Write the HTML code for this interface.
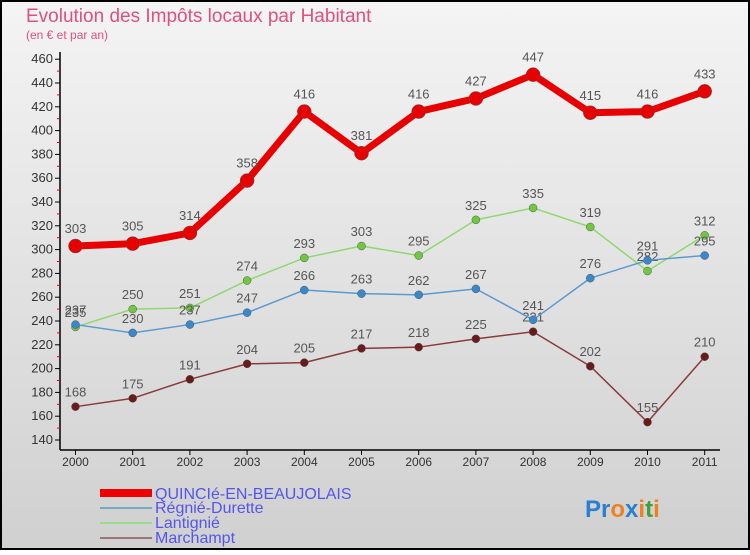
<!DOCTYPE html>
<html><head><meta charset="utf-8"><style>
body{margin:0}
#c{width:750px;height:550px;position:relative;font-family:"Liberation Sans",sans-serif}
</style></head><body>
<div id="c">
<svg width="750" height="550" xmlns="http://www.w3.org/2000/svg" id="svg" font-family="Liberation Sans, sans-serif">
<defs><linearGradient id="bg" x1="0" y1="0" x2="0" y2="1"><stop offset="0" stop-color="#f4f4f4"/><stop offset="1" stop-color="#d0d0d0"/></linearGradient></defs>
<rect x="1" y="1" width="748" height="548" fill="url(#bg)" stroke="#000" stroke-width="2"/>
<text x="26" y="22" font-size="19" fill="#e0507a">Evolution des Impôts locaux par Habitant</text>
<text x="26" y="39" font-size="12" fill="#e0507a">(en € et par an)</text>
<g id="axes"></g><g id="series"></g>
<g font-size="16" fill="#5555ee">
<rect x="100" y="489" width="52" height="8" fill="#e00"/>
<text x="155" y="499">QUINCIé-EN-BEAUJOLAIS</text>
<rect x="100" y="507" width="52" height="2" fill="#7ab"/>
<text x="155" y="513">Régnié-Durette</text>
<rect x="100" y="522" width="52" height="2" fill="#9d8"/>
<text x="155" y="528">Lantignié</text>
<rect x="100" y="537" width="52" height="2" fill="#977"/>
<text x="155" y="543">Marchampt</text>
</g>
<text x="585" y="517" font-size="24" font-weight="bold"><tspan fill="#2a7fd0">Pr</tspan><tspan fill="#f08020">o</tspan><tspan fill="#2a7fd0">x</tspan><tspan fill="#f08020">i</tspan><tspan fill="#40a040">t</tspan><tspan fill="#f08020">i</tspan></text>
</svg></div>
<script>
const years=[2000,2001,2002,2003,2004,2005,2006,2007,2008,2009,2010,2011];
const yTicks=[140,160,180,200,220,240,260,280,300,320,340,360,380,400,420,440,460];
const quincie=[303,305,314,358,416,381,416,427,447,415,416,433];
const regnie=[237,230,237,247,266,263,262,267,241,276,291,295];
const lantignie=[235,250,251,274,293,303,295,325,335,319,282,312];
const marchampt=[168,175,191,204,205,217,218,225,231,202,155,210];
const NS="http://www.w3.org/2000/svg";
const xs=i=>75.5+i*57.2;
const ys=v=>440-(v-140)*1.19;
function mk(t,a,p){const e=document.createElementNS(NS,t);for(const k in a)e.setAttribute(k,a[k]);p.appendChild(e);return e;}
const ax=document.getElementById('axes');
const yl=mk('line',{x1:60,y1:52,x2:60,y2:450,stroke:'#000','stroke-width':1.5},ax);


const xl=mk('line',{x1:60,y1:450,x2:720,y2:450,stroke:'#000','stroke-width':1.5},ax);


yTicks.forEach((v,i)=>{
  mk('line',{x1:55,y1:ys(v),x2:60,y2:ys(v),stroke:'#000'},ax);
  if(i<yTicks.length-1)mk('line',{x1:57,y1:ys(v+10),x2:60,y2:ys(v+10),stroke:'#e00'},ax);
  const t=mk('text',{x:53,y:ys(v)+4,'font-size':13,fill:'#333','text-anchor':'end'},ax);
  
  
  t.textContent=v;
});
years.forEach((y,i)=>{
  mk('line',{x1:xs(i),y1:450,x2:xs(i),y2:455,stroke:'#000'},ax);
  const t=mk('text',{x:xs(i),y:466,'font-size':12,fill:'#333','text-anchor':'middle'},ax);
  
  
  t.textContent=y;
});
const sg=document.getElementById('series');
function draw(data,color,dot,w,r,name,fs){
  const g=mk('g',{},sg);
  
  
  const pl=mk('polyline',{points:data.map((v,i)=>xs(i)+','+ys(v)).join(' '),fill:'none',stroke:color,'stroke-width':w,'stroke-linejoin':'round'},g);
  
  
  data.forEach((v,i)=>{
    const c=mk('circle',{cx:xs(i),cy:ys(v),r:r,fill:dot,stroke:'#555','stroke-width':0.5},g);
    
    
    const t=mk('text',{x:xs(i),y:ys(v)-(r+6),'font-size':fs,fill:'#555','text-anchor':'middle'},g);
    
    
    t.textContent=v;
  });
}
draw(marchampt,'#8a3a3a','#6a1a1a',1.5,4,'marchampt',13);
draw(lantignie,'#90d870','#70c840',1.5,4,'lantignie',13);
draw(regnie,'#5a9ad0','#3a88cc',1.5,4,'regnie',13);
draw(quincie,'#e80000','#e80000',7,7,'quincie',13);
</script>
</body></html>
